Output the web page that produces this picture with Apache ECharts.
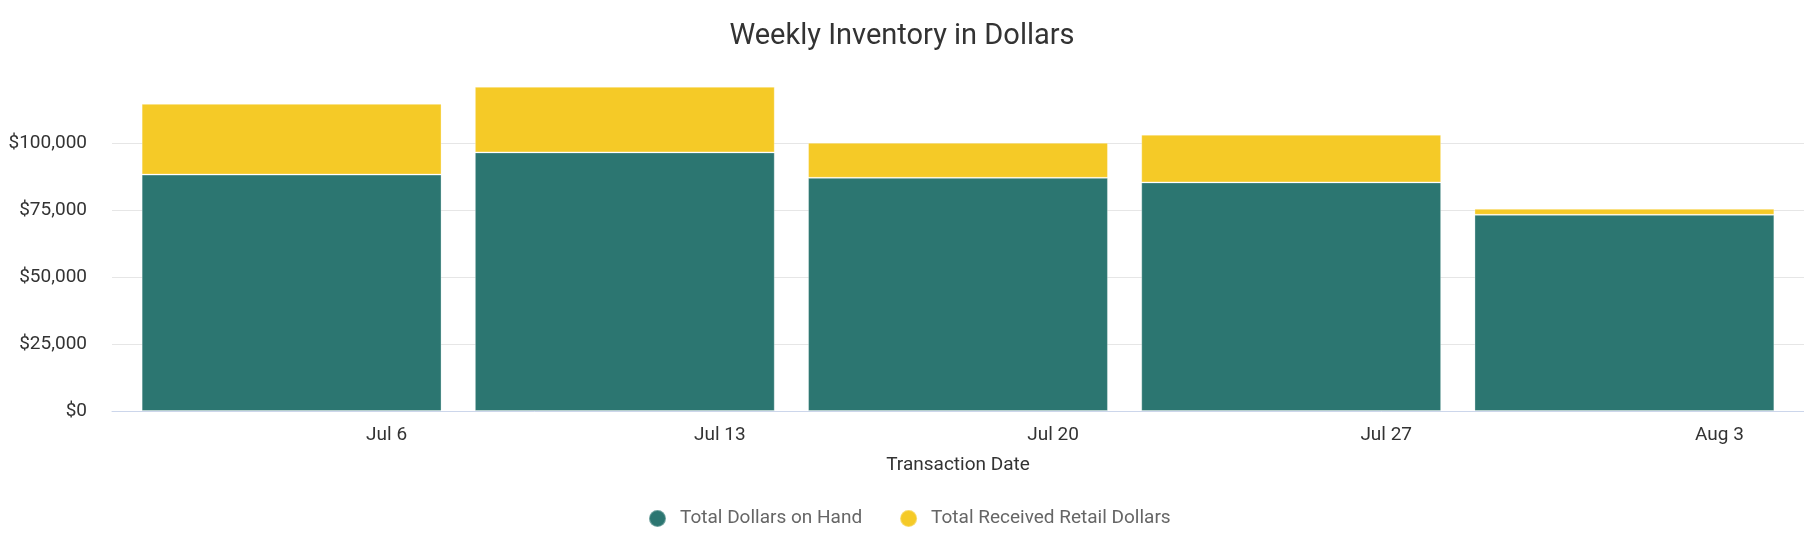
<!DOCTYPE html>
<html>
<head>
<meta charset="utf-8">
<title>Weekly Inventory in Dollars</title>
<script src="https://cdn.jsdelivr.net/npm/echarts@6.0.0/dist/echarts.min.js"></script>
<style>
    html, body { margin: 0; padding: 0; background: #fff; }
    #echart-inventory { width: 1804px; height: 546px; }
</style>
</head>
<body>
<div id="echart-inventory"></div>
<script>
// 周标签
var weekLabels = ['Jul 6', 'Jul 13', 'Jul 20', 'Jul 27', 'Aug 3'];
// 库存金额
var dollarsOnHand = [88200, 96500, 87000, 85300, 73200];
// 收货零售金额
var receivedRetailDollars = [26400, 24500, 13100, 17800, 2250];
// y轴刻度
var yTicks = [0, 25000, 50000, 75000, 100000, 125000];

var seriesNames = ['Total Dollars on Hand', 'Total Received Retail Dollars'];
var seriesColors = ['#2c7671', '#f5ca27'];

window.onload = function () {
    var myChart1 = echarts.init(document.getElementById('echart-inventory'));
    inventoryChartFun(myChart1);

    window.onresize = function () {
        myChart1.resize();
    };
};

/**
 * 每周库存金额 -- 堆叠柱状图
 */
function inventoryChartFun(myChart1) {
    var font = 'Roboto, "Noto Sans", sans-serif';
    var yMin = yTicks[0];
    var yMax = yTicks[yTicks.length - 1];
    var yStep = yTicks[1] - yTicks[0];

    var option1 = {
        color: seriesColors,
        textStyle: { fontFamily: font },
        title: {
            text: 'Weekly Inventory in Dollars',
            left: 'center',
            top: 17,
            textStyle: {
                fontFamily: font,
                fontSize: 29,
                fontWeight: 'normal',
                color: '#333333'
            }
        },
        tooltip: {
            trigger: 'axis'
        },
        legend: {
            data: seriesNames,
            left: 648,
            top: 509,
            padding: 0,
            icon: 'circle',
            itemWidth: 17,
            itemHeight: 17,
            itemGap: 37,
            textStyle: {
                fontFamily: font,
                fontSize: 19,
                color: '#666666',
                padding: [0, 0, 0, 9]
            }
        },
        // grid 0: 轴线和网格线; grid 1: 柱子
        grid: [{
            left: 112,
            right: 0,
            top: 76,
            bottom: 135,
            outerBoundsMode: 'none'
        }, {
            left: 125,
            right: 13,
            top: 76,
            bottom: 135,
            outerBoundsMode: 'none'
        }],
        xAxis: [{
            gridIndex: 0,
            type: 'category',
            data: weekLabels,
            name: 'Transaction Date',
            nameLocation: 'middle',
            nameGap: 45,
            nameTextStyle: {
                fontFamily: font,
                fontSize: 19,
                color: '#333333'
            },
            axisLine: {
                show: true,
                lineStyle: { color: '#ccd6eb', width: 1 }
            },
            axisTick: { show: false },
            axisLabel: { show: false },
            splitLine: { show: false }
        }, {
            gridIndex: 1,
            type: 'category',
            data: weekLabels,
            axisLine: { show: false },
            axisTick: { show: false },
            axisLabel: {
                margin: 15,
                fontFamily: font,
                fontSize: 19,
                color: '#333333',
                padding: [0, 0, 0, 190]
            }
        }],
        yAxis: [{
            gridIndex: 0,
            type: 'value',
            min: yMin,
            max: yMax,
            interval: yStep,
            axisLine: { show: false },
            axisTick: { show: false },
            axisLabel: {
                margin: 25,
                showMaxLabel: false,
                fontFamily: font,
                fontSize: 19,
                color: '#333333',
                formatter: function (value) {
                    return '$' + value.toLocaleString('en-US');
                }
            },
            splitLine: {
                show: true,
                showMinLine: false,
                showMaxLine: false,
                lineStyle: { color: '#e6e6e6', width: 1 }
            }
        }, {
            gridIndex: 1,
            type: 'value',
            min: yMin,
            max: yMax,
            interval: yStep,
            show: false,
            splitLine: { show: false }
        }],
        series: [{
            name: seriesNames[0],
            type: 'bar',
            stack: 'total',
            xAxisIndex: 1,
            yAxisIndex: 1,
            barCategoryGap: '10%',
            itemStyle: {
                color: seriesColors[0],
                borderColor: 'rgba(255,255,255,0.3)',
                borderWidth: 1
            },
            data: dollarsOnHand
        }, {
            name: seriesNames[1],
            type: 'bar',
            stack: 'total',
            xAxisIndex: 1,
            yAxisIndex: 1,
            barCategoryGap: '10%',
            itemStyle: {
                color: seriesColors[1],
                borderColor: 'rgba(255,255,255,0.3)',
                borderWidth: 1
            },
            data: receivedRetailDollars
        }]
    };
    myChart1.setOption(option1);
}
</script>
</body>
</html>
